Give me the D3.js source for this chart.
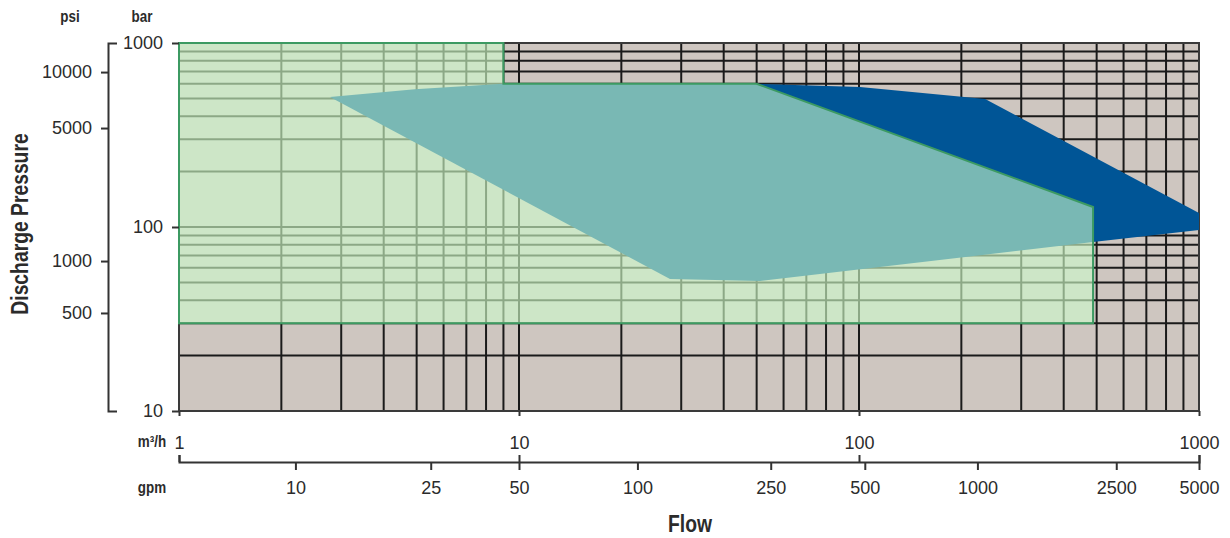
<!DOCTYPE html>
<html>
<head>
<meta charset="utf-8">
<script src="https://cdn.jsdelivr.net/npm/d3@7"></script>
<style>
  html, body { margin: 0; padding: 0; background: #ffffff; }
  svg { display: block; }
  .tick text { font-family: "Liberation Sans", Arial, sans-serif; font-size: 18px; fill: #2b2b2b; }
</style>
</head>
<body>
<script>
// ---------- data ----------
const flowTicks = [1, 10, 100, 1000];                 // m³/h
const barTicks = [10, 100, 1000];                     // bar
const psiLabels = [500, 1000, 5000, 10000];           // psi tick labels
const psiAtBar = [34.1, 65.3, 345, 695];              // their positions in bar
const gpmLabels = [10, 25, 50, 100, 250, 500, 1000, 2500, 5000];
const gpmAtM3h = [2.2, 5.5, 10, 22.3, 55, 104, 223, 571, 1000];

// regions: [flow m³/h, pressure bar]
const greenRegion = [[1, 1000], [9, 1000], [9, 600], [50, 600], [488, 128.5], [488, 30], [1, 30]];
const tealRegion = [[2.78, 509], [4.94, 560], [8.97, 600], [50, 600], [488, 128.5], [488, 82.8], [51.2, 50.9], [27.8, 52.2]];
const blueRegion = [[50, 600], [100.7, 576], [235, 496], [1000, 119], [1000, 96.3], [488, 82.8], [488, 128.5]];

// ---------- setup ----------
const W = 1230, H = 538;
const svg = d3.select("body").append("svg").attr("width", W).attr("height", H);

const x = d3.scaleLog().domain([1, 1000]).range([179, 1199]);
const y = d3.scaleLog().domain([10, 1000]).range([411, 43]);

const line = d3.line().x(d => x(d[0])).y(d => y(d[1]));
const poly = pts => line(pts) + "Z";

const xGrid = x.ticks().filter(v => v > 1 && v < 1000);
const yGrid = y.ticks().filter(v => v > 10 && v < 1000);

const x0 = x.range()[0], x1 = x.range()[1], yT = y.range()[1], yB = y.range()[0];

// gray background
svg.append("rect").attr("x", x0).attr("y", yT).attr("width", x1 - x0).attr("height", yB - yT)
  .attr("fill", "#cec6c0");

function drawGrid(g, color, w) {
  g.selectAll("line.v").data(xGrid).join("line").attr("class", "v")
    .attr("x1", d => x(d)).attr("x2", d => x(d)).attr("y1", yT).attr("y2", yB)
    .attr("stroke", color).attr("stroke-width", w);
  g.selectAll("line.h").data(yGrid).join("line").attr("class", "h")
    .attr("x1", x0).attr("x2", x1).attr("y1", d => y(d)).attr("y2", d => y(d))
    .attr("stroke", color).attr("stroke-width", w);
}
drawGrid(svg.append("g"), "#1a1a1a", 2);

// frame
svg.append("rect").attr("x", x0).attr("y", yT).attr("width", x1 - x0).attr("height", yB - yT)
  .attr("fill", "none").attr("stroke", "#3a3a3a").attr("stroke-width", 2);

// green region
svg.append("clipPath").attr("id", "greenClip").append("path").attr("d", poly(greenRegion));
svg.append("path").attr("d", poly(greenRegion)).attr("fill", "#cde6c7");
drawGrid(svg.append("g").attr("clip-path", "url(#greenClip)"), "#8ca886", 2);

// teal and blue regions
svg.append("path").attr("d", poly(tealRegion)).attr("fill", "#79b8b4");
svg.append("path").attr("d", poly(blueRegion)).attr("fill", "#005596");

// green outline
svg.append("path").attr("d", poly(greenRegion)).attr("fill", "none")
  .attr("stroke", "#3c9a62").attr("stroke-width", 2).attr("stroke-linejoin", "miter");

// ---------- axes ----------
function styleAxis(g) {
  g.selectAll("path.domain").attr("stroke", "#333").attr("stroke-width", 2);
  g.selectAll(".tick line").attr("stroke", "#333").attr("stroke-width", 2);
}

// psi axis (ticks to the left, caps to the right)
const psiAxis = svg.append("g").attr("transform", "translate(108,0)")
  .call(d3.axisLeft(y).tickValues(psiAtBar).tickFormat((d, i) => psiLabels[i])
    .tickSize(7).tickPadding(9).tickSizeOuter(0));
psiAxis.select("path.domain").remove();
const psiDomain = svg.append("g").attr("transform", "translate(108,0)")
  .call(d3.axisRight(y).tickValues([]).tickSizeOuter(9));
styleAxis(psiAxis); styleAxis(psiDomain);

// bar axis
const barAxis = svg.append("g").attr("transform", `translate(${x0},0)`)
  .call(d3.axisLeft(y).tickValues(barTicks).tickFormat(d3.format("d")).tickSize(7).tickPadding(9));
barAxis.select("path.domain").remove();
styleAxis(barAxis);

// plot bottom ticks
const bottomAxis = svg.append("g").attr("transform", `translate(0,${yB})`)
  .call(d3.axisBottom(x).tickValues(flowTicks).tickFormat("").tickSize(5).tickSizeOuter(5));
bottomAxis.select("path.domain").remove();
styleAxis(bottomAxis);

// m³/h axis (labels above line)
const m3Axis = svg.append("g").attr("transform", "translate(0,462)")
  .call(d3.axisTop(x).tickValues(flowTicks).tickFormat(d3.format("d")).tickSize(7).tickPadding(6).tickSizeOuter(7));
styleAxis(m3Axis);

// gpm axis (labels below line)
const gpmAxis = svg.append("g").attr("transform", "translate(0,462)")
  .call(d3.axisBottom(x).tickValues(gpmAtM3h).tickFormat((d, i) => gpmLabels[i]).tickSize(8).tickPadding(11).tickSizeOuter(0));
gpmAxis.select("path.domain").remove();
styleAxis(gpmAxis);

svg.selectAll(".tick text").attr("fill", "#2b2b2b");

// ---------- titles ----------
function label(txt, px, py, size, rot, anchor) {
  svg.append("text")
    .attr("transform", `translate(${px},${py})` + (rot ? ` rotate(${rot})` : "") + " scale(0.84,1)")
    .attr("text-anchor", anchor || "middle")
    .attr("font-family", "'Liberation Sans', Arial, sans-serif")
    .attr("font-weight", "bold").attr("font-size", size).attr("fill", "#2b2b2b")
    .text(txt);
}
label("psi", 70, 22, 16);
label("bar", 142, 22, 16);
label("m³/h", 152, 447, 16);
label("gpm", 152, 493, 16);
label("Discharge Pressure", 28, 224, 23, -90);
label("Flow", 690, 532, 23);
</script>
</body>
</html>
